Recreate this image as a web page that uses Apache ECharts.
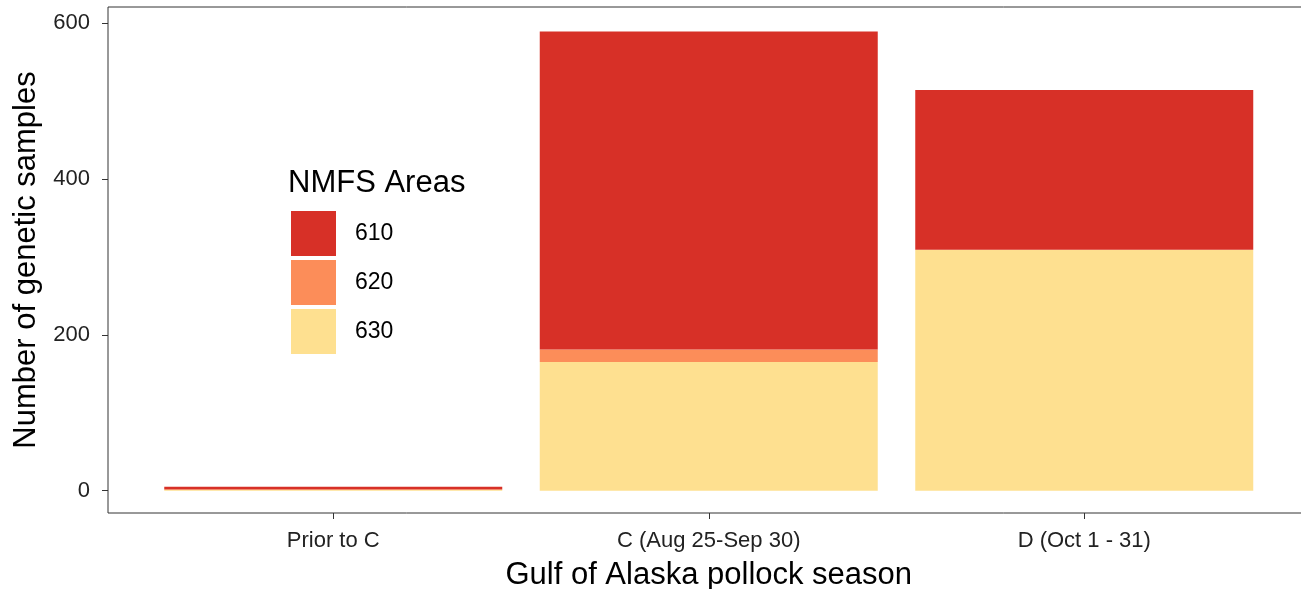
<!DOCTYPE html>
<html>
<head>
<meta charset="utf-8">
<script src="https://cdn.jsdelivr.net/npm/echarts@6/dist/echarts.min.js"></script>
<style>
  html, body { margin: 0; padding: 0; background: #fff; }
  #chart { width: 1301px; height: 589px; }
</style>
</head>
<body>
<div id="chart"></div>
<script>
const seasons = ['Prior to C', 'C (Aug 25-Sep 30)', 'D (Oct 1 - 31)']
const yTicks = [0, 200, 400, 600]
// samples per NMFS area
const area610 = [3, 408, 205]
const area620 = [1, 16, 0]
const area630 = [1, 165, 309]

const colors = { '610': '#D73027', '620': '#FC8D59', '630': '#FEE090' }
const font = 'Liberation Sans, Arial, sans-serif'

// panel goes 0.6 category beyond the outer bars, bars grid only 0.5
const inset = 37.5

const mkSeries = (name, arr) => ({
  name: name,
  type: 'bar',
  stack: 'total',
  barWidth: 338,
  data: arr,
  itemStyle: { color: colors[name] },
  emphasis: { disabled: true },
})

const chart = echarts.init(document.getElementById('chart'))
chart.setOption({
  animation: false,
  textStyle: { fontFamily: font },
  grid: [
    // bars
    { left: 108 + inset, top: 7, right: 29, bottom: 76, outerBoundsMode: 'none' },
    // panel border (runs off the right edge)
    { left: 108, top: 7, width: 1210, bottom: 76, outerBoundsMode: 'none',
      show: true, borderColor: '#333', borderWidth: 1 },
  ],
  legend: {
    orient: 'vertical',
    left: 291,
    top: 211,
    padding: 0,
    data: ['610', '620', '630'],
    icon: 'rect',
    itemWidth: 45,
    itemHeight: 45,
    itemGap: 4,
    selectedMode: false,
    textStyle: { fontSize: 23, color: '#000', fontFamily: font, padding: [8, 0, 0, 14] },
  },
  graphic: [{
    type: 'text',
    left: 288,
    top: 168,
    style: { text: 'NMFS Areas', font: '31px ' + font, fill: '#000' },
  }],
  xAxis: [{
    type: 'category',
    gridIndex: 0,
    data: seasons,
    name: 'Gulf of Alaska pollock season',
    nameLocation: 'middle',
    nameGap: 47,
    nameTextStyle: { fontSize: 31, color: '#000', fontFamily: font },
    axisLine: { show: false, onZero: false },
    axisTick: { show: true, alignWithLabel: true, length: 6, lineStyle: { color: '#333' } },
    axisLabel: { fontSize: 22, color: '#222', margin: 17, interval: 0 },
  }, {
    type: 'value', gridIndex: 1, show: false,
  }],
  yAxis: [{
    type: 'value',
    gridIndex: 0,
    offset: inset,
    min: -28.6,
    max: 620.5,
    name: 'Number of genetic samples',
    nameLocation: 'middle',
    nameGap: 66,
    nameTextStyle: { fontSize: 31, color: '#000', fontFamily: font },
    axisLine: { show: false },
    splitLine: { show: false },
    axisTick: { show: true, length: 6, customValues: yTicks, lineStyle: { color: '#333' } },
    axisLabel: { customValues: yTicks, fontSize: 22, color: '#222', margin: 18, padding: [4, 0, 0, 0] },
  }, {
    type: 'value', gridIndex: 1, show: false,
  }],
  series: [
    mkSeries('630', area630),
    mkSeries('620', area620),
    mkSeries('610', area610),
  ],
})
</script>
</body>
</html>
